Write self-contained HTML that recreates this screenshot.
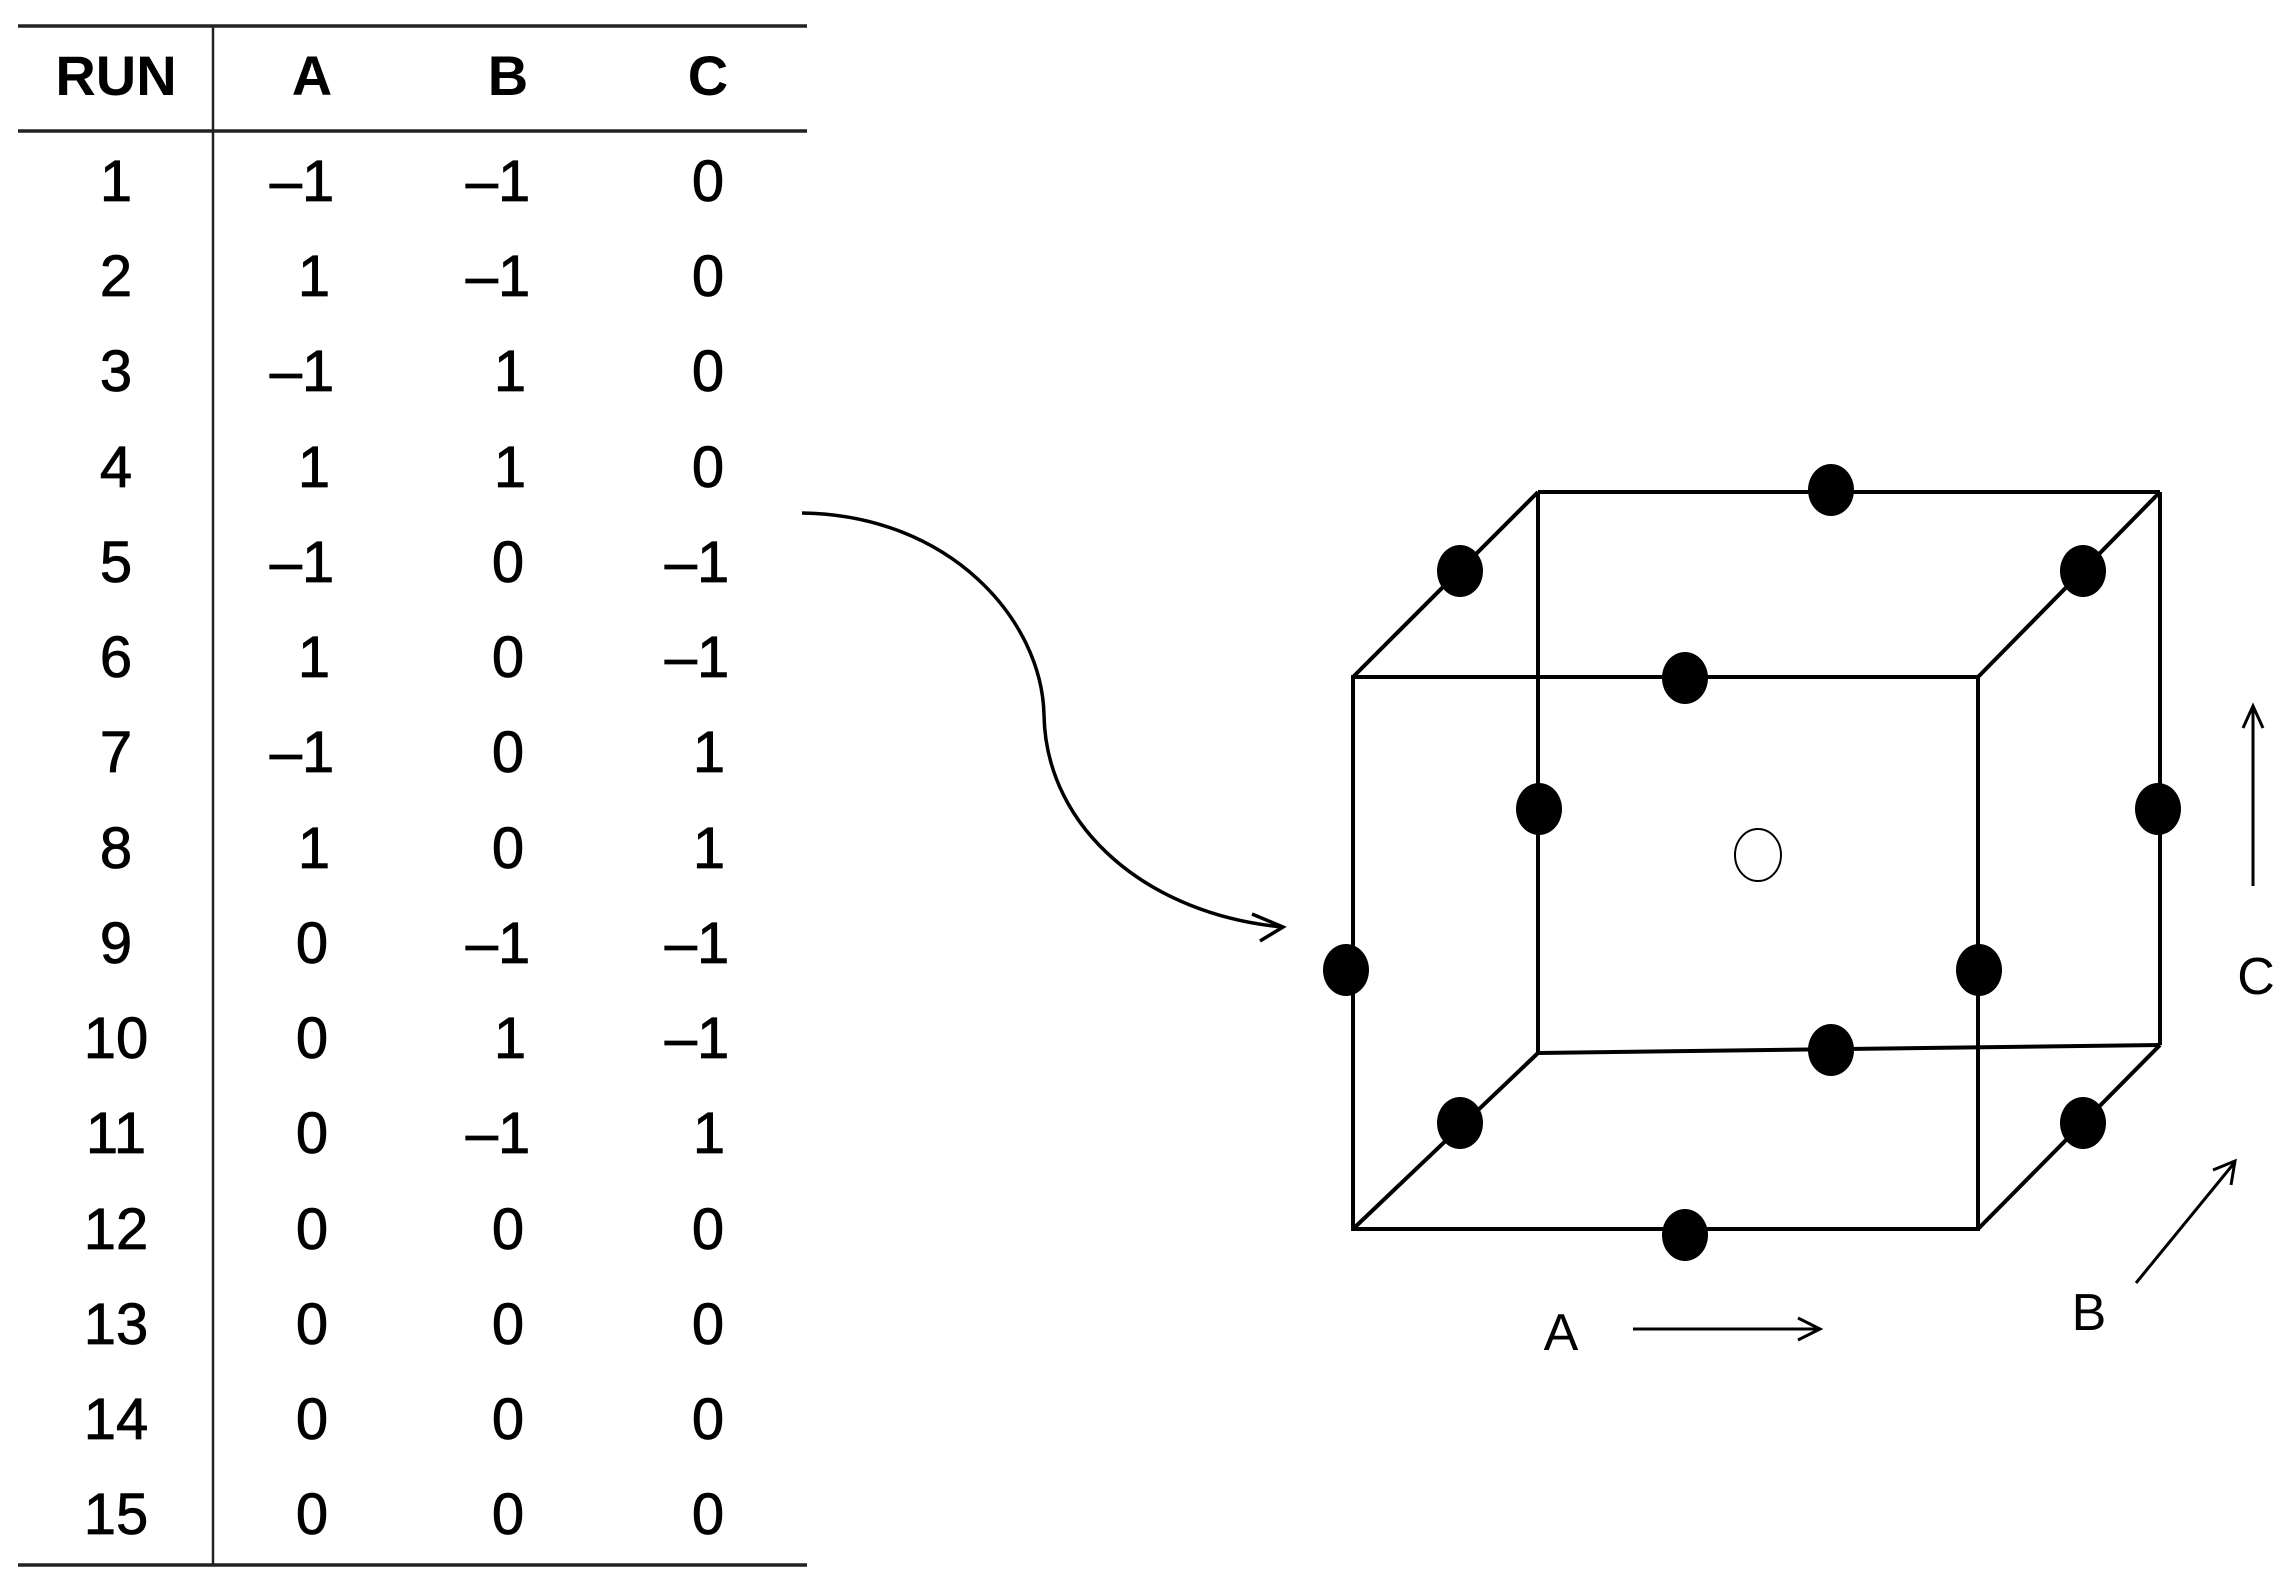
<!DOCTYPE html>
<html><head><meta charset="utf-8"><style>
html,body{margin:0;padding:0;background:#fff;}
svg{display:block;}
text{font-family:"Liberation Sans",Arial,sans-serif;fill:#000;}
</style></head><body>
<svg width="2289" height="1594" viewBox="0 0 2289 1594" xmlns="http://www.w3.org/2000/svg">
<line x1="18" y1="26" x2="807" y2="26" stroke="#222" stroke-width="3.5"/>
<line x1="18" y1="131" x2="807" y2="131" stroke="#222" stroke-width="3.5"/>
<line x1="18" y1="1565" x2="807" y2="1565" stroke="#222" stroke-width="3.5"/>
<line x1="213" y1="26" x2="213" y2="1565" stroke="#222" stroke-width="2.5"/>
<g font-size="56" font-weight="bold" text-anchor="middle">
<text x="116" y="95">RUN</text>
<text x="312" y="95">A</text>
<text x="508" y="95">B</text>
<text x="708" y="95">C</text>
</g>
<g font-size="58" text-anchor="middle" stroke="#000" stroke-width="0.8">
<text x="116" y="201">1</text><text x="302" y="201">–1</text><text x="498" y="201">–1</text><text x="708" y="201">0</text>
<text x="116" y="296">2</text><text x="314" y="296">1</text><text x="498" y="296">–1</text><text x="708" y="296">0</text>
<text x="116" y="391">3</text><text x="302" y="391">–1</text><text x="510" y="391">1</text><text x="708" y="391">0</text>
<text x="116" y="487">4</text><text x="314" y="487">1</text><text x="510" y="487">1</text><text x="708" y="487">0</text>
<text x="116" y="582">5</text><text x="302" y="582">–1</text><text x="508" y="582">0</text><text x="697" y="582">–1</text>
<text x="116" y="677">6</text><text x="314" y="677">1</text><text x="508" y="677">0</text><text x="697" y="677">–1</text>
<text x="116" y="772">7</text><text x="302" y="772">–1</text><text x="508" y="772">0</text><text x="709" y="772">1</text>
<text x="116" y="868">8</text><text x="314" y="868">1</text><text x="508" y="868">0</text><text x="709" y="868">1</text>
<text x="116" y="963">9</text><text x="312" y="963">0</text><text x="498" y="963">–1</text><text x="697" y="963">–1</text>
<text x="116" y="1058">10</text><text x="312" y="1058">0</text><text x="510" y="1058">1</text><text x="697" y="1058">–1</text>
<text x="116" y="1153">11</text><text x="312" y="1153">0</text><text x="498" y="1153">–1</text><text x="709" y="1153">1</text>
<text x="116" y="1249">12</text><text x="312" y="1249">0</text><text x="508" y="1249">0</text><text x="708" y="1249">0</text>
<text x="116" y="1344">13</text><text x="312" y="1344">0</text><text x="508" y="1344">0</text><text x="708" y="1344">0</text>
<text x="116" y="1439">14</text><text x="312" y="1439">0</text><text x="508" y="1439">0</text><text x="708" y="1439">0</text>
<text x="116" y="1534">15</text><text x="312" y="1534">0</text><text x="508" y="1534">0</text><text x="708" y="1534">0</text>
</g>
<path d="M802,513 C950,515 1042,620 1044,715 C1046,830 1150,915 1283,927" fill="none" stroke="#000" stroke-width="3.5"/>
<path d="M1252,914 L1283,927 L1260,941" fill="none" stroke="#000" stroke-width="3.5"/>
<g stroke="#000" stroke-width="4" fill="none">
<rect x="1353" y="677" width="625" height="552"/>
<line x1="1538" y1="492" x2="2160" y2="492"/>
<line x1="1538" y1="492" x2="1538" y2="1053"/>
<line x1="2160" y1="492" x2="2160" y2="1045"/>
<line x1="1538" y1="1053" x2="2160" y2="1045"/>
<line x1="1353" y1="677" x2="1538" y2="492"/>
<line x1="1978" y1="677" x2="2160" y2="492"/>
<line x1="1353" y1="1229" x2="1538" y2="1053"/>
<line x1="1978" y1="1229" x2="2160" y2="1045"/>
</g>
<g fill="#000">
<ellipse cx="1831" cy="490" rx="23" ry="26"/>
<ellipse cx="1460" cy="571" rx="23" ry="26"/>
<ellipse cx="2083" cy="571" rx="23" ry="26"/>
<ellipse cx="1685" cy="678" rx="23" ry="26"/>
<ellipse cx="1539" cy="809" rx="23" ry="26"/>
<ellipse cx="2158" cy="809" rx="23" ry="26"/>
<ellipse cx="1346" cy="970" rx="23" ry="26"/>
<ellipse cx="1979" cy="970" rx="23" ry="26"/>
<ellipse cx="1831" cy="1050" rx="23" ry="26"/>
<ellipse cx="1460" cy="1123" rx="23" ry="26"/>
<ellipse cx="2083" cy="1123" rx="23" ry="26"/>
<ellipse cx="1685" cy="1235" rx="23" ry="26"/>
</g>
<ellipse cx="1758" cy="855" rx="23" ry="26" fill="none" stroke="#000" stroke-width="2"/>
<g stroke="#000" stroke-width="3" fill="none">
<line x1="2253" y1="886" x2="2253" y2="707"/>
<path d="M2243,728 L2253,706 L2263,728"/>
<line x1="1633" y1="1329" x2="1819" y2="1329"/>
<path d="M1798,1318 L1820,1329 L1798,1340"/>
<line x1="2136" y1="1283" x2="2235" y2="1162"/>
<path d="M2213,1170 L2235,1161 L2231,1185"/>
</g>
<g font-size="52" text-anchor="middle">
<text x="2256" y="994">C</text>
<text x="2089" y="1330">B</text>
<text x="1561" y="1350">A</text>
</g>
</svg>
</body></html>
